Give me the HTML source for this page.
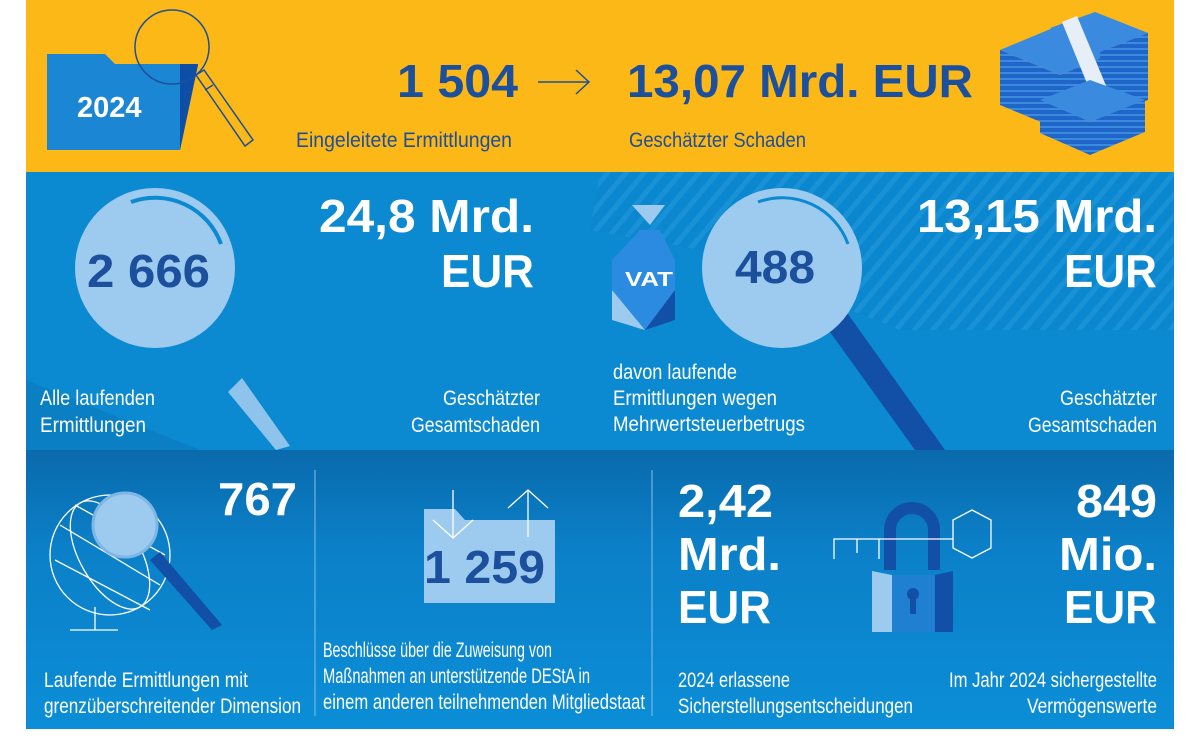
<!DOCTYPE html>
<html><head><meta charset="utf-8"><style>
html,body{margin:0;padding:0;background:#fff;}
svg{display:block}
.c{font-family:"Liberation Sans",sans-serif;font-size:21px;fill:#fff}
.cn{font-family:"Liberation Sans",sans-serif;font-size:21px;fill:#1d4f9a}
.b{font-family:"Liberation Sans",sans-serif;font-weight:bold;font-size:46px;fill:#fff}
.bn{font-family:"Liberation Sans",sans-serif;font-weight:bold;font-size:46px;fill:#1c4f9c}
</style></head><body>
<svg width="1200" height="741" viewBox="0 0 1200 741" xmlns="http://www.w3.org/2000/svg">
<defs>
<linearGradient id="g1" x1="0" y1="0" x2="0" y2="1"><stop offset="0" stop-color="#0a6aac"/><stop offset="0.35" stop-color="#0b80c8"/><stop offset="1" stop-color="#0b8ed7"/></linearGradient>
<pattern id="st" width="14" height="14" patternUnits="userSpaceOnUse" patternTransform="rotate(40)"><rect width="14" height="14" fill="#0b86cf"/><rect width="5" height="14" fill="#1c93d8"/></pattern>
<pattern id="sh" width="6" height="6" patternUnits="userSpaceOnUse"><rect width="6" height="6" fill="#1f66c8"/><rect width="6" height="2" fill="#3a8be0"/></pattern>
</defs>
<rect x="26" y="0" width="1148" height="172" fill="#fbb817"/>
<rect x="26" y="172" width="1148" height="278" fill="#0b89d1"/>
<polygon points="600,172 1174,172 1174,330 900,330 700,250 590,230" fill="url(#st)" opacity="0.8"/>
<polygon points="26,380 200,450 26,450" fill="#0a7fc4"/>
<rect x="26" y="450" width="1148" height="279" fill="url(#g1)"/>
<!-- folder top -->
<polygon points="60,80 155,65 198,65 180,150 170,150" fill="#0f4ea6"/>
<polygon points="47,54 105,54 115,64 180,64 180,150 47,150" fill="#1b86d3"/>
<polygon points="180,64 198,64 180,150" fill="#0f4ea6"/>
<text x="77" y="117" class="b" style="font-size:29px">2024</text>
<circle cx="172" cy="47" r="37" fill="none" stroke="#1d4f9a" stroke-width="1.5"/>
<polygon points="196,75 204,70 253,140 245,146" fill="none" stroke="#1d4f9a" stroke-width="1.5"/>
<line x1="205" y1="90" x2="213" y2="85" stroke="#1d4f9a" stroke-width="1.5"/>
<text x="397" y="97" class="bn" textLength="121" lengthAdjust="spacingAndGlyphs">1 504</text>
<line x1="538" y1="82" x2="588" y2="82" stroke="#1d4f9a" stroke-width="1.5"/>
<polyline points="576,70 589,82 576,94" fill="none" stroke="#1d4f9a" stroke-width="1.5"/>
<text x="627" y="97" class="bn" textLength="346" lengthAdjust="spacingAndGlyphs">13,07 Mrd. EUR</text>
<text x="296" y="147" class="cn" textLength="216" lengthAdjust="spacingAndGlyphs">Eingeleitete Ermittlungen</text>
<text x="629" y="147" class="cn" textLength="177" lengthAdjust="spacingAndGlyphs">Geschätzter Schaden</text>
<!-- money stacks -->
<g>
<polygon points="1000,50 1060,25 1120,50 1060,75" fill="#3a8be0"/>
<polygon points="1000,50 1060,75 1060,130 1000,105" fill="url(#sh)"/>
<polygon points="1060,75 1120,50 1120,105 1060,130" fill="url(#sh)"/>
<polygon points="1050,28 1095,12 1148,33 1100,52" fill="#3a8be0"/>
<polygon points="1100,52 1148,33 1148,100 1100,118" fill="url(#sh)"/>
<polygon points="1062,22 1077,16 1112,100 1097,108" fill="#e8eef7"/>
<polygon points="1040,100 1090,80 1145,100 1090,122" fill="#3a8be0"/>
<polygon points="1040,100 1090,122 1090,155 1040,133" fill="url(#sh)"/>
<polygon points="1090,122 1145,100 1145,132 1090,155" fill="url(#sh)"/>
</g>
<!-- mid left -->
<polygon points="228,392 242,378 290,446 276,450" fill="#8ec3ec"/>
<circle cx="155" cy="268" r="80" fill="#9ccbef"/>
<path d="M131,202 A70,70 0 0 1 221,244" fill="none" stroke="#0b89d1" stroke-width="4"/>
<text x="87" y="287" class="bn" textLength="123" lengthAdjust="spacingAndGlyphs">2 666</text>
<text x="319" y="232" class="b" textLength="215" lengthAdjust="spacingAndGlyphs">24,8 Mrd.</text>
<text x="441" y="287" class="b" textLength="93" lengthAdjust="spacingAndGlyphs">EUR</text>
<text x="40" y="405" class="c" textLength="115" lengthAdjust="spacingAndGlyphs">Alle laufenden</text>
<text x="40" y="432" class="c" textLength="106" lengthAdjust="spacingAndGlyphs">Ermittlungen</text>
<text x="443" y="405" class="c" textLength="97" lengthAdjust="spacingAndGlyphs">Geschätzter</text>
<text x="411" y="432" class="c" textLength="129" lengthAdjust="spacingAndGlyphs">Gesamtschaden</text>
<!-- mid right -->
<polygon points="825,325 845,310 945,450 915,450" fill="#124fa6"/>
<circle cx="782" cy="268" r="80" fill="#9ccbef"/>
<path d="M758,202 A70,70 0 0 1 848,244" fill="none" stroke="#0b89d1" stroke-width="3"/>
<text x="735" y="283" class="bn" textLength="80" lengthAdjust="spacingAndGlyphs">488</text>
<polygon points="632,205 665,205 650,225" fill="#9ccbef"/>
<polygon points="640,230 660,230 675,260 675,320 640,330 612,315 612,260" fill="#2a8be0"/>
<polygon points="612,290 645,330 612,320" fill="#9ccbef"/>
<polygon points="675,290 675,320 645,330" fill="#124fa6"/>
<text x="625" y="286" class="b" style="font-size:20px" textLength="48" lengthAdjust="spacingAndGlyphs">VAT</text>
<text x="917" y="232" class="b" textLength="240" lengthAdjust="spacingAndGlyphs">13,15 Mrd.</text>
<text x="1064" y="287" class="b" textLength="93" lengthAdjust="spacingAndGlyphs">EUR</text>
<text x="613" y="379" class="c" textLength="124" lengthAdjust="spacingAndGlyphs">davon laufende</text>
<text x="613" y="405" class="c" textLength="164" lengthAdjust="spacingAndGlyphs">Ermittlungen wegen</text>
<text x="613" y="431" class="c" textLength="192" lengthAdjust="spacingAndGlyphs">Mehrwertsteuerbetrugs</text>
<text x="1060" y="405" class="c" textLength="97" lengthAdjust="spacingAndGlyphs">Geschätzter</text>
<text x="1028" y="432" class="c" textLength="129" lengthAdjust="spacingAndGlyphs">Gesamtschaden</text>
<!-- bottom -->
<line x1="315" y1="470" x2="315" y2="716" stroke="#7fc0ec" stroke-width="1"/>
<line x1="652" y1="470" x2="652" y2="716" stroke="#7fc0ec" stroke-width="1"/>
<g fill="none" stroke="#fff" stroke-width="1.3">
<circle cx="110" cy="555" r="60"/>
<ellipse cx="110" cy="555" rx="30" ry="60" transform="rotate(-30 110 555)"/>
<line x1="60" y1="525" x2="160" y2="585"/><line x1="55" y1="560" x2="150" y2="610"/><line x1="75" y1="505" x2="165" y2="555"/>
<line x1="95" y1="607" x2="95" y2="630"/><line x1="70" y1="630" x2="118" y2="630"/>
</g>
<polygon points="150,560 160,552 222,625 212,630" fill="#124fa6"/>
<circle cx="125" cy="525" r="32" fill="#9ccbef" stroke="#7fb6e3" stroke-width="3"/>
<text x="218" y="515" class="b" textLength="79" lengthAdjust="spacingAndGlyphs">767</text>
<polygon points="424,509 455,509 465,520 555,520 555,603 424,603" fill="#9ccbef"/>
<g stroke="#fff" stroke-width="1.3" fill="none">
<line x1="453" y1="490" x2="453" y2="538"/><polyline points="433,520 453,538 473,520"/>
<line x1="528" y1="490" x2="528" y2="537"/><polyline points="508,508 528,490 548,508"/>
</g>
<text x="424" y="583" class="bn" textLength="121" lengthAdjust="spacingAndGlyphs">1 259</text>
<text x="44" y="687" class="c" textLength="204" lengthAdjust="spacingAndGlyphs">Laufende Ermittlungen mit</text>
<text x="44" y="713" class="c" textLength="257" lengthAdjust="spacingAndGlyphs">grenzüberschreitender Dimension</text>
<text x="323" y="657" class="c" textLength="229" lengthAdjust="spacingAndGlyphs">Beschlüsse über die Zuweisung von</text>
<text x="323" y="683" class="c" textLength="267" lengthAdjust="spacingAndGlyphs">Maßnahmen an unterstützende DEStA in</text>
<text x="323" y="709" class="c" textLength="322" lengthAdjust="spacingAndGlyphs">einem anderen teilnehmenden Mitgliedstaat</text>
<text x="678" y="517" class="b" textLength="95" lengthAdjust="spacingAndGlyphs">2,42</text>
<text x="678" y="570" class="b" textLength="103" lengthAdjust="spacingAndGlyphs">Mrd.</text>
<text x="678" y="623" class="b" textLength="93" lengthAdjust="spacingAndGlyphs">EUR</text>
<!-- lock -->
<path d="M890,570 V530 A22,22 0 0 1 934,530 V570" fill="none" stroke="#124fa6" stroke-width="12"/>
<polygon points="872,571 892,575 892,632 872,632" fill="#9ccbef"/>
<polygon points="892,575 935,575 935,632 892,632" fill="#1f7fd0"/>
<polygon points="935,575 953,571 953,632 935,632" fill="#124fa6"/>
<circle cx="913" cy="594" r="6" fill="#124fa6"/><rect x="910" y="594" width="6" height="20" fill="#124fa6"/>
<g stroke="#fff" stroke-width="1.3" fill="none">
<polyline points="834,559 834,539 953,539"/><line x1="857" y1="539" x2="857" y2="553"/><line x1="879" y1="539" x2="879" y2="559"/>
<polygon points="972,510 991,520 991,548 972,558 953,548 953,520"/>
</g>
<text x="1076" y="517" class="b" textLength="81" lengthAdjust="spacingAndGlyphs">849</text>
<text x="1059" y="570" class="b" textLength="98" lengthAdjust="spacingAndGlyphs">Mio.</text>
<text x="1064" y="623" class="b" textLength="93" lengthAdjust="spacingAndGlyphs">EUR</text>
<text x="678" y="687" class="c" textLength="112" lengthAdjust="spacingAndGlyphs">2024 erlassene</text>
<text x="678" y="713" class="c" textLength="235" lengthAdjust="spacingAndGlyphs">Sicherstellungsentscheidungen</text>
<text x="949" y="687" class="c" textLength="208" lengthAdjust="spacingAndGlyphs">Im Jahr 2024 sichergestellte</text>
<text x="1027" y="713" class="c" textLength="130" lengthAdjust="spacingAndGlyphs">Vermögenswerte</text>
</svg>
</body></html>
